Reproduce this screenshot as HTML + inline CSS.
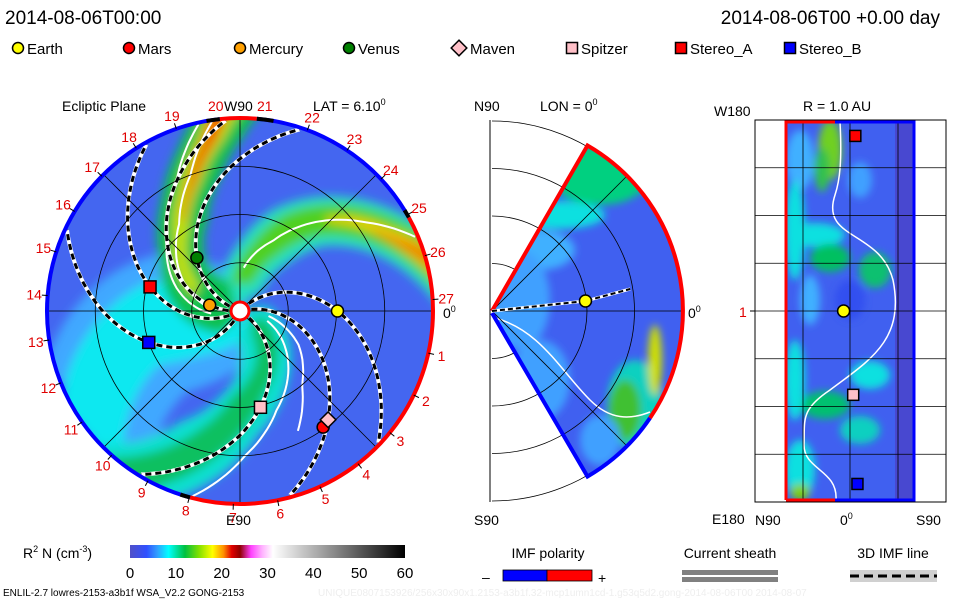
<!DOCTYPE html>
<html><head><meta charset="utf-8">
<style>
body{margin:0;background:#fff;width:960px;height:600px;overflow:hidden}
svg{display:block}
text{font-family:"Liberation Sans",sans-serif}
</style></head>
<body>
<svg id="s" width="960" height="600" viewBox="0 0 960 600" xmlns="http://www.w3.org/2000/svg">
<defs>
<filter id="bl" x="-20%" y="-20%" width="140%" height="140%"><feGaussianBlur stdDeviation="5"/></filter>
<filter id="bl2" x="-20%" y="-20%" width="140%" height="140%"><feGaussianBlur stdDeviation="4"/></filter>
<clipPath id="cc"><circle cx="240" cy="311" r="193"/></clipPath>
<clipPath id="wc"><path d="M492,311 L587.5,145.5 A191,191 0 0 1 587.5,476.5 Z"/></clipPath>
<clipPath id="rc"><rect x="786" y="122" width="128" height="378"/></clipPath>
<linearGradient id="cb" x1="0" x2="1" y1="0" y2="0">
<stop offset="0" stop-color="#5050c8"/><stop offset="0.06" stop-color="#3050ff"/><stop offset="0.1" stop-color="#30a0ff"/><stop offset="0.14" stop-color="#00ffff"/><stop offset="0.2" stop-color="#00c040"/><stop offset="0.25" stop-color="#80e000"/><stop offset="0.3" stop-color="#ffff00"/><stop offset="0.34" stop-color="#ff9000"/><stop offset="0.37" stop-color="#e00000"/><stop offset="0.4" stop-color="#900000"/><stop offset="0.44" stop-color="#ff40ff"/><stop offset="0.48" stop-color="#ffb0ff"/><stop offset="0.52" stop-color="#ffffff"/><stop offset="0.7" stop-color="#a0a0a0"/><stop offset="1" stop-color="#000000"/>
</linearGradient>
</defs>
<g id="left"></g>
<g id="mid"></g>
<g id="right"></g>
<g id="legend"></g>
<text x="5" y="24" font-size="19">2014-08-06T00:00</text>
<text x="940" y="24" font-size="19" text-anchor="end">2014-08-06T00 +0.00 day</text>
<text x="62" y="111" font-size="14">Ecliptic Plane</text>
<text x="208" y="111" font-size="14" fill="#e00000">20</text>
<text x="224" y="111" font-size="14">W90</text>
<text x="257" y="111" font-size="14" fill="#e00000">21</text>
<text x="313" y="111" font-size="14">LAT = 6.10<tspan font-size="9" dy="-6">0</tspan></text>
<text x="443" y="318" font-size="14">0<tspan font-size="9" dy="-6">0</tspan></text>
<text x="226" y="525" font-size="14">E90</text>
<text x="474" y="111" font-size="14">N90</text>
<text x="540" y="111" font-size="14">LON = 0<tspan font-size="9" dy="-6">0</tspan></text>
<text x="474" y="525" font-size="14">S90</text>
<text x="688" y="318" font-size="14">0<tspan font-size="9" dy="-6">0</tspan></text>
<text x="714" y="116" font-size="14">W180</text>
<text x="803" y="111" font-size="14">R = 1.0 AU</text>
<text x="739" y="317" font-size="14" fill="#e00000">1</text>
<text x="712" y="524" font-size="14">E180</text>
<text x="755" y="525" font-size="14">N90</text>
<text x="840" y="525" font-size="14">0<tspan font-size="9" dy="-6">0</tspan></text>
<text x="916" y="525" font-size="14">S90</text>
<g>
<text x="23" y="558" font-size="14">R<tspan font-size="9" dy="-6">2</tspan><tspan dy="6"> N (cm</tspan><tspan font-size="9" dy="-6">-3</tspan><tspan dy="6">)</tspan></text>
<rect x="130" y="545" width="275" height="13" fill="url(#cb)"/>
<g id="cbt"></g>
</g>
<text x="548" y="558" font-size="14" text-anchor="middle">IMF polarity</text>
<text x="482" y="582" font-size="14">–</text>
<rect x="503" y="570" width="44" height="11" fill="#0000ff" stroke="#000" stroke-width="0.8"/>
<rect x="547" y="570" width="45" height="11" fill="#ff0000" stroke="#000" stroke-width="0.8"/>
<text x="598" y="583" font-size="14">+</text>
<text x="730" y="558" font-size="14" text-anchor="middle">Current sheath</text>
<rect x="682" y="570" width="96" height="5" fill="#808080"/>
<rect x="682" y="577" width="96" height="5" fill="#808080"/>
<text x="893" y="558" font-size="14" text-anchor="middle">3D IMF line</text>
<rect x="850" y="570" width="87" height="12" fill="#d0d0d0"/>
<line x1="850" y1="576" x2="937" y2="576" stroke="#000" stroke-width="3" stroke-dasharray="9,5"/>
<text x="3" y="596" font-size="10">ENLIL-2.7 lowres-2153-a3b1f WSA_V2.2 GONG-2153</text>
<text x="318" y="596" font-size="10" fill="#eeeeee">UNIQUE0807153926/256x30x90x1.2153-a3b1f.32-mcp1umn1cd-1.g53q5d2.gong-2014-08-06T00   2014-08-07</text>
</svg>
<script>
const NS='http://www.w3.org/2000/svg';
// ---- data ----
const bodyNames=['Earth','Mars','Mercury','Venus','Maven','Spitzer','Stereo_A','Stereo_B'];
const bodyColors=['#ffff00','#ff0000','#ffa000','#008000','#ffc0c8','#ffc0c8','#ff0000','#0000ff'];
const bodyShapes=['circle','circle','circle','circle','diamond','square','square','square'];
const bodyR=[1.01,1.48,0.32,0.71,1.45,1.02,0.965,1.0];      // AU
const bodyLon=[0,-54.4,169,129,-51,-78,165,-161];          // deg
const bodyShowSpiral=[1,0,1,1,1,1,1,1];
const colorTicks=[0,10,20,30,40,50,60];
const carrLabels=[1,2,3,4,5,6,7,8,9,10,11,12,13,14,15,16,17,18,19,22,23,24,25,26,27];
const midEarthR=[1.0];const midEarthLat=[6.1];
const rightNames=['Stereo_A','Earth','Spitzer','Stereo_B'];
const rightColors=['#ff0000','#ffff00','#ffc0c8','#0000ff'];
const rightLat=[2.5,-3,1.5,3.5];        // deg
const rightLon=[-165,0,79,163];         // deg (W180 top -> E180 bottom)
// ---- helpers ----
function el(tag,attrs,parent){const e=document.createElementNS(NS,tag);for(const k in attrs)e.setAttribute(k,attrs[k]);(parent||document.getElementById('s')).appendChild(e);return e;}
const CX=240,CY=311,AU=96.5;
function px(r,a){return [CX+r*AU*Math.cos(a*Math.PI/180),CY-r*AU*Math.sin(a*Math.PI/180)];}
function lerpPts(pts,r){for(let i=0;i<pts.length-1;i++){if(r<=pts[i+1][0]){const t=(r-pts[i][0])/(pts[i+1][0]-pts[i][0]);return pts[i][1]+t*(pts[i+1][1]-pts[i][1]);}}return pts[pts.length-1][1];}
function ribbon(g,pts,w0,w1,r0,r1,color,name){let L=[],R=[];for(let r=r0;r<=r1+1e-6;r+=0.05){const a=lerpPts(pts,r);const w=w0+(w1-w0)*(r-r0)/(r1-r0);const ww=w/Math.max(r,0.3);L.push(px(r,a+ww));R.push(px(r,a-ww));}
 const d='M'+L.map(p=>p.join(',')).join('L')+'L'+R.reverse().map(p=>p.join(',')).join('L')+'Z';const p=el('path',{d:d,fill:color},g);}
function marker(g,shape,x,y,c,s,name){let m;if(shape==='circle')m=el('circle',{cx:x,cy:y,r:s,fill:c,stroke:'#000','stroke-width':1.5},g);
 else if(shape==='square')m=el('rect',{x:x-s,y:y-s,width:2*s,height:2*s,fill:c,stroke:'#000','stroke-width':1.5},g);
 else m=el('path',{d:`M${x},${y-s*1.3}L${x+s*1.3},${y}L${x},${y+s*1.3}L${x-s*1.3},${y}Z`,fill:c,stroke:'#000','stroke-width':1.5},g);
 return m;}
// ---- left panel ----
const L=document.getElementById('left');
el('circle',{cx:CX,cy:CY,r:193,fill:'#4466f0'},L);
const lg=el('g',{'clip-path':'url(#cc)'},L);const lb=el('g',{filter:'url(#bl)'},lg);
ribbon(lb,[[0.1,200],[0.6,195],[1.0,190],[1.4,200],[1.8,212],[2.1,222]],40,55,0.1,2.1,'#40a8ff','light-blue-region');
ribbon(lb,[[0.1,200],[0.6,190],[1.0,188],[1.4,200],[1.8,212],[2.1,222]],22,30,0.1,2.1,'#10e8f0','cyan-region');
ribbon(lb,[[0.1,-30],[0.5,-55],[0.9,-80],[1.3,-100],[1.7,-112],[2.1,-125]],14,30,0.1,2.1,'#10e0d0','lower-cyan-band');
ribbon(lb,[[0.1,-30],[0.5,-55],[0.9,-85],[1.3,-100],[1.7,-113],[2.1,-126]],6,16,0.2,2.1,'#10c060','lower-green-band');
ribbon(lb,[[0.1,95],[0.7,68],[1.1,55],[1.5,38],[1.8,25],[2.1,12]],12,26,0.1,2.1,'#20e0c0','right-cyan-band');
ribbon(lb,[[0.1,95],[0.7,68],[1.1,55],[1.5,38],[1.8,25],[2.1,12]],6,18,0.3,2.1,'#50d020','right-green-band');
ribbon(lb,[[0.1,95],[0.7,68],[1.1,55],[1.5,38],[1.8,24],[2.1,12]],2,10,1.3,2.1,'#f0d000','right-yellow-band');
ribbon(lb,[[1.6,31],[1.8,23],[2.1,13]],1,7,1.6,2.1,'#f08000','right-orange-band');
ribbon(lb,[[0.1,180],[0.6,155],[1.0,128],[1.4,112],[1.8,100],[2.1,93]],18,20,0.1,2.1,'#10c050','upper-green-band');
ribbon(lb,[[0.4,160],[0.8,140],[1.0,128],[1.4,112],[1.8,100],[2.1,94]],4,10,0.5,2.1,'#c0e000','upper-yellow-band');
ribbon(lb,[[1.0,126],[1.4,111],[1.8,100],[2.1,95]],1,6,1.1,2.1,'#f06000','upper-orange-band');
[0.5,1,1.5].forEach(r=>{const c=el('circle',{cx:CX,cy:CY,r:r*AU,fill:'none',stroke:'#000','stroke-width':0.8},L);});
[0,45,90,135].forEach(a=>{const p1=px(2,a),p2=px(2,a+180);const ln=el('line',{x1:p1[0],y1:p1[1],x2:p2[0],y2:p2[1],stroke:'#000','stroke-width':0.8},L);});
function wline(pts,name){let d='';for(let r=pts[0][0];r<=pts[pts.length-1][0]+1e-6;r+=0.04){const p=px(r,lerpPts(pts,r));d+=(d?'L':'M')+p[0].toFixed(1)+','+p[1].toFixed(1);}const w=el('path',{d:d,fill:'none',stroke:'#fff','stroke-width':2},lg);}
wline([[0.3,175],[0.7,150],[1.1,125],[1.5,110],[2.0,98]],'current-sheath-1');
wline([[0.3,185],[0.7,160],[1.1,133],[1.5,116],[2.0,102]],'current-sheath-2');
wline([[0.45,85],[0.8,65],[1.2,50],[1.6,35],[2.0,22]],'current-sheath-3');
wline([[0.3,-20],[0.7,-45],[1.1,-70],[1.5,-88],[2.0,-105]],'current-sheath-4');
wline([[0.3,-10],[0.7,-30],[1.0,-50],[1.4,-65]],'current-sheath-5');
const K=45;
bodyNames.forEach((n,i)=>{if(!bodyShowSpiral[i])return;let d='';for(let r=0.12;r<=2.0;r+=0.03){const p=px(r,bodyLon[i]-K*(r-bodyR[i]));d+=(d?'L':'M')+p[0].toFixed(1)+','+p[1].toFixed(1);}
 const w=el('path',{d:d,fill:'none',stroke:'#fff','stroke-width':4},lg);
 const b=el('path',{d:d,fill:'none',stroke:'#000','stroke-width':3,'stroke-dasharray':'6,4'},lg);});
function arc(r,a0,a1,color,w,name){const p0=px(r,a0),p1=px(r,a1);const large=Math.abs(a1-a0)>180?1:0;const a=el('path',{d:`M${p0}A${r*AU},${r*AU} 0 ${large} 0 ${p1}`,fill:'none',stroke:color,'stroke-width':w},L);}
arc(2.0,-105,29,'#ff0000',4,'rim-positive');arc(2.0,31,85,'#0000ff',4,'rim-negative-1');arc(2.0,96,255,'#0000ff',4,'rim-negative-2');
arc(2.0,85,96,'#ff0000',4,'rim-positive-top');arc(2.0,29,31.5,'#000',4,'rim-boundary');arc(2.0,96,100,'#000',4,'rim-boundary-top');arc(2.0,80,85,'#000',4,'rim-boundary-top2');arc(2.0,-108,-105,'#000',4,'rim-boundary-bottom');
carrLabels.forEach(n=>{const a=-12.6-(n-1)*13.23;const t1=px(2.0,a),t2=px(2.06,a);const tk=el('line',{x1:t1[0],y1:t1[1],x2:t2[0],y2:t2[1],stroke:'#000','stroke-width':1},L);
 const p=px(2.14,a);const t=el('text',{x:p[0],y:p[1]+5,'font-size':14,fill:'#e00000','text-anchor':'middle'},L);t.textContent=n;});
el('circle',{cx:CX,cy:CY,r:9,fill:'#fff',stroke:'#ff0000','stroke-width':3},L);
bodyNames.forEach((n,i)=>{const p=px(bodyR[i],bodyLon[i]);marker(L,bodyShapes[i],p[0],p[1],bodyColors[i],6,'body-'+n.toLowerCase());});
// ---- middle panel ----
const M=document.getElementById('mid');const MX=492,MY=311,MR=190;
el('line',{x1:490,y1:120,x2:490,y2:502,stroke:'#000','stroke-width':1},M);
[47.5,95,142.5,190].forEach(r=>{const c=el('path',{d:`M${MX},${MY-r}A${r},${r} 0 0 1 ${MX},${MY+r}`,fill:'none',stroke:'#000','stroke-width':0.8},M);});
const mg=el('g',{'clip-path':'url(#wc)'},M);
el('rect',{x:490,y:120,width:200,height:385,fill:'#4060f0'},mg);
const mb=el('g',{filter:'url(#bl2)'},mg);
[[600,175,50,30,'#00d080'],[560,215,45,14,'#10e0e0'],[540,250,35,20,'#40b0ff'],[520,300,30,50,'#40a0ff'],[540,380,30,40,'#40a0ff'],[635,405,28,45,'#10d0c0'],[625,410,16,30,'#40c030'],[655,360,7,35,'#d0e000'],[600,440,20,25,'#40a0ff']].forEach(e=>{const q=el('ellipse',{cx:e[0],cy:e[1],rx:e[2],ry:e[3],fill:e[4]},mb);});
el('path',{d:'M495,318 C540,330 560,370 590,400 C610,420 630,420 650,412',fill:'none',stroke:'#fff','stroke-width':1.5},mg);
[0,45,-45].forEach(a=>{const r=MR,x=MX+r*Math.cos(a*Math.PI/180),y=MY-r*Math.sin(a*Math.PI/180);const l=el('line',{x1:MX,y1:MY,x2:x,y2:y,stroke:'#000','stroke-width':0.8},mg);});
[95,142.5].forEach(r=>{el('path',{d:`M${MX},${MY-r}A${r},${r} 0 0 1 ${MX},${MY+r}`,fill:'none',stroke:'#000','stroke-width':0.8},mg);});
el('path',{d:`M${MX},${MY}L587.5,145.5A191,191 0 0 1 650,418`,fill:'none',stroke:'#ff0000','stroke-width':4},M);
el('path',{d:`M650,418A191,191 0 0 1 587.5,476.5L${MX},${MY+2}`,fill:'none',stroke:'#0000ff','stroke-width':4},M);
midEarthR.forEach((r,i)=>{const a=midEarthLat[i];const x=MX+r*94*Math.cos(a*Math.PI/180),y=MY-r*94*Math.sin(a*Math.PI/180);
 el('path',{d:`M${MX},${MY}L${x},${y}L${MX+1.47*94},${MY-22}`,fill:'none',stroke:'#fff','stroke-width':3},M);
 el('path',{d:`M${MX},${MY}L${x},${y}L${MX+1.47*94},${MY-22}`,fill:'none',stroke:'#000','stroke-width':2,'stroke-dasharray':'5,3'},M);
 marker(M,'circle',x,y,'#ffff00',6,'mid-earth');});
// ---- right panel ----
const R=document.getElementById('right');
const rg=el('g',{'clip-path':'url(#rc)'},R);
el('rect',{x:786,y:122,width:128,height:378,fill:'#4060f0'},rg);
el('rect',{x:895,y:122,width:20,height:378,fill:'#4848d0'},rg);
const rb=el('g',{filter:'url(#bl2)'},rg);
[[800,160,14,30,'#40b0ff'],[795,230,10,50,'#10e0e0'],[830,150,12,30,'#70d020'],[822,170,8,22,'#30c050'],[860,180,12,18,'#40a0ff'],[815,235,30,12,'#10e0e0'],[830,258,20,14,'#00c060'],[875,270,16,18,'#10c070'],[850,300,15,20,'#3050f0'],[810,300,10,25,'#40b0ff'],[825,405,25,14,'#00c070'],[870,375,20,14,'#10e0e0'],[860,430,20,14,'#10d0c0'],[795,380,10,40,'#10e0e0'],[800,470,15,30,'#10e0e0'],[800,492,10,8,'#80d000']].forEach(e=>{const q=el('ellipse',{cx:e[0],cy:e[1],rx:e[2],ry:e[3],fill:e[4]},rb);});
el('path',{d:'M840,122 C842,160 840,180 835,195 C820,240 880,230 893,280 C905,340 870,360 830,390 C800,410 805,420 804,445 C804,470 838,470 836,500',fill:'none',stroke:'#fff','stroke-width':1.5},rg);
el('rect',{x:755,y:120,width:191,height:382,fill:'none',stroke:'#000','stroke-width':1},R);
for(let i=1;i<8;i++){const y=120+i*382/8;const l=el('line',{x1:755,y1:y,x2:946,y2:y,stroke:'#000','stroke-width':0.8},R);}
[803,850,898].forEach(x=>{const l=el('line',{x1:x,y1:120,x2:x,y2:502,stroke:'#000','stroke-width':0.8},R);});
el('line',{x1:750,y1:311,x2:755,y2:311,stroke:'#000'},R);
el('path',{d:'M786,500L786,122L835,122',fill:'none',stroke:'#ff0000','stroke-width':3},R);
el('path',{d:'M835,122L914,122L914,500L835,500',fill:'none',stroke:'#0000ff','stroke-width':3},R);
el('line',{x1:786,y1:500,x2:835,y2:500,stroke:'#ff0000','stroke-width':3},R);
rightNames.forEach((n,i)=>{const x=850+rightLat[i]*2.13,y=311+rightLon[i]*(191/180);marker(R,n==='Earth'?'circle':'square',x,y,rightColors[i],n==='Earth'?6:5.5,'r1au-'+n.toLowerCase());});
// ---- legend ----
const G=document.getElementById('legend');
const legX=[18,129,240,349,459,572,681,790];
bodyNames.forEach((n,i)=>{marker(G,bodyShapes[i],legX[i],48,bodyColors[i],bodyShapes[i]==='diamond'?6:5.5,'legend-marker-'+n.toLowerCase());
 const t=el('text',{x:legX[i]+(bodyShapes[i]==='diamond'?11:9),y:54,'font-size':15},G);t.textContent=n;});
const CB=document.getElementById('cbt');
colorTicks.forEach(v=>{const x=130+v/60*275;const t=el('text',{x:x,y:578,'font-size':15,'text-anchor':'middle'},CB);t.textContent=v;});
</script>
</body></html>
